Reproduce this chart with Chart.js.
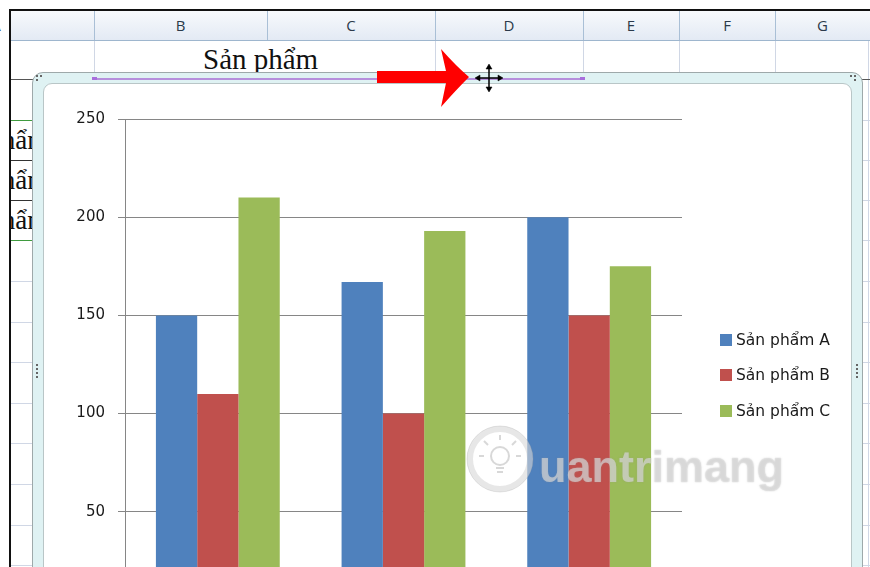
<!DOCTYPE html>
<html>
<head>
<meta charset="utf-8">
<script src="https://cdn.jsdelivr.net/npm/chart.js@4.4.0/dist/chart.umd.min.js"></script>
<style>
    body { margin: 0; width: 870px; height: 567px; overflow: hidden; background: #fff; position: relative; font-family: "DejaVu Sans", sans-serif; }
    .abs { position: absolute; }
    .hdr { left: 11px; top: 11px; width: 859px; height: 29px; background: linear-gradient(#f7f9fc, #e3eaf4); border-bottom: 1px solid #9eb6ce; }
    .col { top: 11px; height: 29px; width: 1px; background: #a9bfd6; }
    .letter { top: 11px; height: 29px; line-height: 29px; font-size: 15px; color: #2b3a4a; text-align: center; font-family: "Open Sans", sans-serif; }
    .vline { top: 41px; height: 530px; width: 1px; background: #d0d7e5; }
    .hline { left: 11px; width: 859px; height: 1px; background: #d0d7e5; }
    .serif { font-family: "Liberation Serif", serif; font-size: 27px; color: #111; white-space: nowrap; }
    .frame { left: 32px; top: 72px; width: 829px; height: 600px; border: 1px solid #9ea9aa; border-radius: 11px; background: #dff2f3; }
    .inner { left: 43px; top: 83px; width: 807px; height: 600px; border: 1px solid #b9c6c7; border-radius: 9px; background: #fff; }
    .dot { width: 2px; height: 2px; background: #666; }
    #legend { left: 720px; top: 322px; font-size: 15.5px; color: #1a1a1a; }
    .item { height: 35.5px; display: flex; align-items: center; white-space: nowrap; }
    .sw { width: 12px; height: 12px; margin-right: 4px; }
    .mark { font-family: "Liberation Sans", sans-serif; font-weight: bold; font-size: 45px; line-height: 52px; color: rgba(232,232,232,0.55); left: 539px; top: 441px; text-shadow: 0 0 1.5px rgba(150,150,150,0.55); }
</style>
</head>
<body>

<!-- sheet grid -->
<div class="abs" style="left:9px;top:9px;width:861px;height:2px;background:#111"></div>
<div class="abs hdr"></div>
<div class="abs letter" style="left:-14px;width:20px">A</div>
<div class="abs" style="left:9px;top:9px;width:2px;height:560px;background:#111"></div>
<div class="abs col" style="left:94px"></div>
<div class="abs col" style="left:267px"></div>
<div class="abs col" style="left:435px"></div>
<div class="abs col" style="left:583px"></div>
<div class="abs col" style="left:679px"></div>
<div class="abs col" style="left:775px"></div>
<div class="abs letter" style="left:94px;width:173px">B</div>
<div class="abs letter" style="left:267px;width:168px">C</div>
<div class="abs letter" style="left:435px;width:148px">D</div>
<div class="abs letter" style="left:583px;width:96px">E</div>
<div class="abs letter" style="left:679px;width:96px">F</div>
<div class="abs letter" style="left:775px;width:95px">G</div>
<div class="abs vline" style="left:94px"></div>
<div class="abs vline" style="left:435px"></div>
<div class="abs vline" style="left:583px"></div>
<div class="abs vline" style="left:679px"></div>
<div class="abs vline" style="left:775px"></div>
<div class="abs vline" style="left:868px"></div>
<div id="rows"></div>
<div class="abs" style="left:11px;top:79px;width:859px;height:1px;background:#555"></div>
<div class="abs serif" style="left:203px;top:43px;font-size:29px">Sản phẩm</div>

<div class="abs" style="left:11px;top:120px;width:22px;height:120px;overflow:hidden">
    <div class="abs serif" style="right:-40px;top:5px">Sản phẩm A</div>
    <div class="abs serif" style="right:-40px;top:45px">Sản phẩm B</div>
    <div class="abs serif" style="right:-40px;top:85px">Sản phẩm C</div>
</div>
<div class="abs" style="left:11px;top:120px;width:22px;height:1px;background:#3f9b3f"></div>
<div class="abs" style="left:11px;top:160px;width:22px;height:1px;background:#333"></div>
<div class="abs" style="left:11px;top:200px;width:22px;height:1px;background:#333"></div>
<div class="abs" style="left:11px;top:240px;width:22px;height:1px;background:#3f9b3f"></div>

<!-- chart object -->
<div class="abs frame"></div>
<div class="abs" style="left:94px;top:78px;width:489px;height:2px;background:#b68fdc"></div>
<div class="abs" style="left:92px;top:77px;width:5px;height:3px;background:#a86fdc"></div>
<div class="abs" style="left:580px;top:77px;width:5px;height:3px;background:#a86fdc"></div>
<div class="abs inner"></div>
<div class="abs dot" style="left:36px;top:75px"></div>
<div class="abs dot" style="left:40px;top:75px"></div>
<div class="abs dot" style="left:36px;top:79px"></div>
<div class="abs dot" style="left:850px;top:75px"></div>
<div class="abs dot" style="left:854px;top:75px"></div>
<div class="abs dot" style="left:854px;top:79px"></div>
<div class="abs dot" style="left:36px;top:364px"></div>
<div class="abs dot" style="left:36px;top:368px"></div>
<div class="abs dot" style="left:36px;top:372px"></div>
<div class="abs dot" style="left:36px;top:376px"></div>
<div class="abs dot" style="left:856px;top:364px"></div>
<div class="abs dot" style="left:856px;top:368px"></div>
<div class="abs dot" style="left:856px;top:372px"></div>
<div class="abs dot" style="left:856px;top:376px"></div>

<div class="abs" style="left:44px;top:84px;width:808px;height:600px">
    <canvas id="salesChart"></canvas>
</div>
<div class="abs" id="legend"></div>

<!-- watermark -->
<svg class="abs" style="left:462px;top:418px" width="80" height="82">
    <circle cx="38" cy="41" r="30" fill="none" stroke="rgba(215,215,215,0.6)" stroke-width="6"/>
    <circle cx="38" cy="41" r="33" fill="none" stroke="rgba(160,160,160,0.25)" stroke-width="1"/>
    <circle cx="38" cy="38" r="9" fill="none" stroke="rgba(200,200,200,0.7)" stroke-width="2"/>
    <path d="M34 50 h8 M35 54 h6 M38 22 v-5 M26 27 l-4 -4 M50 27 l4 -4 M22 38 h-5 M54 38 h5" stroke="rgba(200,200,200,0.7)" stroke-width="2"/>
</svg>
<div class="abs mark">uantrimang</div>

<!-- red arrow + move cursor -->
<svg class="abs" style="left:370px;top:44px" width="140" height="70">
    <path d="M7 27 H76 L71 5 Q86 22 99 33 Q86 46 71 63 L76 39 H7 Z" fill="#ff0000"/>
    <g stroke="#000" stroke-width="1.5" fill="#000">
        <path d="M109 34 H129 M119 24 V44" fill="none"/>
        <path d="M105 34 L110 31 L110 37 Z M133 34 L128 31 L128 37 Z M119 20 L116 25 L122 25 Z M119 48 L116 43 L122 43 Z" stroke-width="0.5"/>
    </g>
</svg>

<script>
// ============================================
// DATA
// ============================================

const categories = ['Tháng 1', 'Tháng 2', 'Tháng 3'];
const seriesNames = ['Sản phẩm A', 'Sản phẩm B', 'Sản phẩm C'];
const seriesA = [150, 167, 200];
const seriesB = [110, 100, 150];
const seriesC = [210, 193, 175];
const seriesColors = ['#4F81BD', '#C0504D', '#9BBB59'];
const yMin = 0;
const yMax = 250;
const yStep = 50;

// sheet row lines
const rowLines = [120, 160, 200, 240, 281, 322, 362, 403, 443, 484, 525, 565];
const rowsEl = document.getElementById('rows');
rowLines.forEach(y => {
    const d = document.createElement('div');
    d.className = 'abs hline';
    d.style.top = y + 'px';
    rowsEl.appendChild(d);
});

// ============================================
// CHART
// ============================================

const axisGray = '#868686';
const values = [seriesA, seriesB, seriesC];

new Chart(document.getElementById('salesChart'), {
    type: 'bar',
    data: {
        labels: categories,
        datasets: seriesNames.map((name, i) => ({
            label: name,
            data: values[i],
            backgroundColor: seriesColors[i],
            borderWidth: 0,
            categoryPercentage: 0.667,
            barPercentage: 1.0
        }))
    },
    options: {
        responsive: true,
        maintainAspectRatio: false,
        animation: false,
        layout: { padding: { top: 35, right: 170, bottom: 34, left: 0 } },
        plugins: {
            legend: { display: false },
            tooltip: { enabled: false }
        },
        scales: {
            x: {
                grid: { display: false },
                border: { color: axisGray },
                ticks: { color: '#1a1a1a', font: { family: 'DejaVu Sans', size: 15 } },
                afterFit: s => { s.height = 40; }
            },
            y: {
                min: yMin,
                max: yMax,
                ticks: {
                    stepSize: yStep,
                    padding: 13,
                    color: '#1a1a1a',
                    font: { family: 'DejaVu Sans', size: 15 }
                },
                grid: { color: axisGray, tickLength: 7, lineWidth: 1 },
                border: { color: axisGray, width: 1 },
                afterFit: s => { s.width = 81; }
            }
        }
    }
});

// legend
const legendEl = document.getElementById('legend');
seriesNames.forEach((name, i) => {
    const row = document.createElement('div');
    row.className = 'item';
    row.innerHTML = '<span class="sw" style="background:' + seriesColors[i] + '"></span>' + name;
    legendEl.appendChild(row);
});
</script>
</body>
</html>
